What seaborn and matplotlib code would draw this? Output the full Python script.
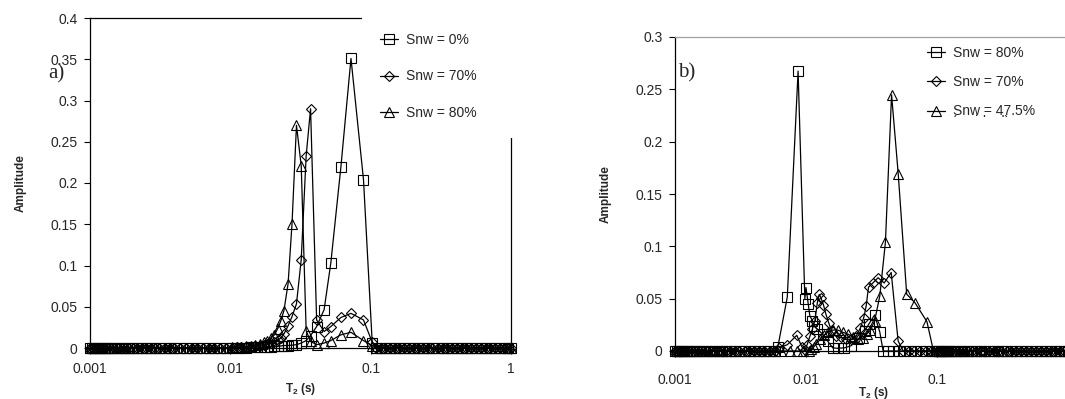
import matplotlib
matplotlib.use('Agg')
import matplotlib.pyplot as plt
from matplotlib.ticker import FixedLocator, FixedFormatter, NullLocator
from matplotlib.transforms import Bbox, TransformedBbox
import seaborn as sns

# ---- panel a) data ----
a_lo_x = [0.001, 0.00104, 0.00108, 0.00112, 0.00117, 0.00122, 0.00128, 0.00134,
          0.00141, 0.00149, 0.00158, 0.00168, 0.00179, 0.00191, 0.00204, 0.00218,
          0.00234, 0.00251, 0.0027, 0.0029, 0.0031, 0.0034, 0.0037, 0.004,
          0.0044, 0.0048, 0.0053, 0.0058, 0.0064, 0.007, 0.0077, 0.0085]
a_lo_y = [0, 0, 0, 0, 0, 0, 0, 0, 0, 0, 0, 0, 0, 0, 0, 0,
          0, 0, 0, 0, 0, 0, 0, 0, 0, 0, 0, 0, 0, 0, 0, 0]
a_mid_x = [0.0093, 0.0102, 0.0111, 0.012, 0.013, 0.014, 0.0151, 0.0162,
           0.0173, 0.0184, 0.0195, 0.0206, 0.0217, 0.0229, 0.0241, 0.0258,
           0.0275, 0.0296, 0.032, 0.0347, 0.0373, 0.0412, 0.0466, 0.052,
           0.0614, 0.0724, 0.0889, 0.1026]
a_sq_y = [0, 0, 0, 0, 0.0005, 0.0007, 0.001, 0.001,
          0.0012, 0.0015, 0.0017, 0.002, 0.002, 0.0025, 0.003, 0.003,
          0.0035, 0.004, 0.006, 0.009, 0.015, 0.026, 0.0466, 0.103,
          0.22, 0.351, 0.204, 0.006]
a_di_y = [0.0003, 0.0005, 0.0008, 0.001, 0.0013, 0.0017, 0.0022, 0.003,
          0.0038, 0.0048, 0.006, 0.0075, 0.0095, 0.012, 0.017, 0.027,
          0.038, 0.0535, 0.107, 0.233, 0.29, 0.034, 0.020, 0.026,
          0.037, 0.042, 0.034, 0.007]
a_tr_y = [0.0003, 0.0007, 0.001, 0.0015, 0.002, 0.003, 0.004, 0.005,
          0.007, 0.009, 0.012, 0.016, 0.023, 0.033, 0.0454, 0.078,
          0.15, 0.27, 0.221, 0.021, 0.008, 0.004, 0.006, 0.009,
          0.016, 0.019, 0.009, 0.003]
a_hi_x = [0.11, 0.118, 0.127, 0.137, 0.148, 0.16, 0.173, 0.187, 0.202, 0.218,
          0.236, 0.255, 0.275, 0.3, 0.325, 0.35, 0.38, 0.41, 0.445, 0.48,
          0.52, 0.56, 0.61, 0.66, 0.71, 0.77, 0.83, 0.9, 0.95, 1.0]
a_hi_y = [0, 0, 0, 0, 0, 0, 0, 0, 0, 0, 0, 0, 0, 0, 0,
          0, 0, 0, 0, 0, 0, 0, 0, 0, 0, 0, 0, 0, 0, 0]
a_labels = ['Snw = 0%', 'Snw = 70%', 'Snw = 80%']

# ---- panel b) data ----
b_lo_x = [0.001, 0.00104, 0.00108, 0.00113, 0.00118, 0.00124, 0.0013, 0.00137,
          0.00145, 0.00154, 0.00164, 0.00175, 0.00187, 0.002, 0.00215, 0.0023,
          0.00247, 0.00265, 0.00285, 0.0031, 0.0034, 0.0037, 0.004, 0.0044,
          0.0048, 0.0053]
b_lo_y = [0, 0, 0, 0, 0, 0, 0, 0, 0, 0, 0, 0, 0,
          0, 0, 0, 0, 0, 0, 0, 0, 0, 0, 0, 0, 0]
b_sq_x = [0.0058, 0.0061, 0.0072, 0.0087, 0.0098, 0.0100, 0.0104, 0.0107,
          0.0112, 0.0115, 0.0122, 0.0134, 0.0146, 0.016, 0.0174, 0.0196,
          0.0221, 0.0256, 0.028, 0.0301, 0.0334, 0.0366, 0.0388, 0.0424,
          0.0465, 0.051, 0.056, 0.062, 0.068, 0.075, 0.083, 0.091]
b_sq_y = [0, 0.004, 0.0517, 0.2674, 0.050, 0.0606, 0.045, 0.0335,
          0.029, 0.024, 0.021, 0.016, 0.0096, 0.003, 0.0026, 0.003,
          0.005, 0.0128, 0.019, 0.0255, 0.0345, 0.018, 0, 0,
          0, 0, 0, 0, 0, 0, 0, 0]
b_di_x = [0.0058, 0.0062, 0.0072, 0.0085, 0.0093, 0.0098, 0.0102, 0.0107,
          0.0112, 0.0117, 0.0122, 0.0126, 0.013, 0.0136, 0.0142, 0.0149,
          0.0157, 0.0169, 0.0185, 0.0203, 0.0221, 0.0241, 0.026, 0.0276,
          0.0288, 0.030, 0.0324, 0.0355, 0.0395, 0.0447, 0.0505, 0.0552,
          0.061, 0.067, 0.074, 0.082, 0.09]
b_di_y = [0, 0.003, 0.006, 0.015, 0.004, 0.001, 0.006, 0.014,
          0.021, 0.029, 0.046, 0.054, 0.051, 0.044, 0.035, 0.027,
          0.019, 0.014, 0.013, 0.011, 0.011, 0.014, 0.022, 0.032,
          0.043, 0.061, 0.065, 0.07, 0.065, 0.075, 0.0096, 0,
          0, 0, 0, 0, 0]
b_tr_x = [0.0058, 0.0065, 0.0075, 0.0085, 0.0095, 0.0105, 0.011, 0.0115,
          0.012, 0.0128, 0.0137, 0.0147, 0.016, 0.0175, 0.019, 0.021,
          0.023, 0.025, 0.027, 0.029, 0.031, 0.0334, 0.0366, 0.0404,
          0.045, 0.0506, 0.0587, 0.068, 0.0838, 0.094]
b_tr_y = [0, 0, 0, 0, 0, 0, 0.002, 0.004,
          0.007, 0.011, 0.015, 0.018, 0.02, 0.02, 0.018, 0.016,
          0.013, 0.011, 0.012, 0.016, 0.02, 0.0287, 0.0527, 0.104,
          0.2448, 0.169, 0.0543, 0.046, 0.028, 0]
b_hi_x = [0.1, 0.104, 0.108, 0.112, 0.117, 0.122, 0.128, 0.135, 0.143, 0.152,
          0.162, 0.173, 0.185, 0.2, 0.215, 0.23, 0.25, 0.27, 0.29, 0.31,
          0.34, 0.37, 0.4, 0.44, 0.48, 0.52, 0.57, 0.62, 0.68, 0.74,
          0.8, 0.87, 0.94, 1.0]
b_hi_y = [0, 0, 0, 0, 0, 0, 0, 0, 0, 0, 0, 0, 0, 0, 0, 0, 0,
          0, 0, 0, 0, 0, 0, 0, 0, 0, 0, 0, 0, 0, 0, 0, 0, 0]
b_labels = ['Snw = 80%', 'Snw = 70%', 'Snw = 47.5%']

# ---- axes ticks ----
x_ticks = [0.001, 0.01, 0.1, 1]
a_xticklabels = ['0.001', '0.01', '0.1', '1']
b_xticklabels = ['0.001', '0.01', '0.1', '']   # "1" falls outside the picture
a_yticks = [0, 0.05, 0.1, 0.15, 0.2, 0.25, 0.3, 0.35, 0.4]
a_yticklabels = ['0', '0.05', '0.1', '0.15', '0.2', '0.25', '0.3', '0.35', '0.4']
b_yticks = [0, 0.05, 0.1, 0.15, 0.2, 0.25, 0.3]
b_yticklabels = ['0', '0.05', '0.1', '0.15', '0.2', '0.25', '0.3']

sns.set_style('ticks')
plt.rcParams['font.family'] = ['Liberation Sans', 'DejaVu Sans']
plt.rcParams['mathtext.default'] = 'regular'

W, H = 1065, 399
fig = plt.figure(figsize=(W / 100, H / 100), dpi=100)
ax1 = fig.add_axes([90 / W, 1 - 348 / H, 421 / W, (348 - 18) / H])
ax2 = fig.add_axes([675 / W, 1 - 351 / H, 393 / W, (351 - 37) / H])


def draw(ax, x, y, marker, ms, label):
    sns.lineplot(x=x, y=y, ax=ax, color='black', lw=0.9, marker=marker,
                 markersize=ms, markerfacecolor='none', markeredgecolor='black',
                 markeredgewidth=0.8, clip_on=False, label=label,
                 estimator=None, errorbar=None, sort=False)


draw(ax1, a_lo_x + a_mid_x + a_hi_x, a_lo_y + a_sq_y + a_hi_y, 's', 7, a_labels[0])
draw(ax1, a_lo_x + a_mid_x + a_hi_x, a_lo_y + a_di_y + a_hi_y, 'D', 5.5, a_labels[1])
draw(ax1, a_lo_x + a_mid_x + a_hi_x, a_lo_y + a_tr_y + a_hi_y, '^', 7.5, a_labels[2])

draw(ax2, b_lo_x + b_sq_x + b_hi_x, b_lo_y + b_sq_y + b_hi_y, 's', 7, b_labels[0])
draw(ax2, b_lo_x + b_di_x + b_hi_x, b_lo_y + b_di_y + b_hi_y, 'D', 5.5, b_labels[1])
draw(ax2, b_lo_x + b_tr_x + b_hi_x, b_lo_y + b_tr_y + b_hi_y, '^', 7.5, b_labels[2])

for ax, xtl, yt, ytl, ymax, xpad in [
        (ax1, a_xticklabels, a_yticks, a_yticklabels, 0.4, 6),
        (ax2, b_xticklabels, b_yticks, b_yticklabels, 0.3, 12)]:
    ax.set_xscale('log')
    ax.set_xlim(0.001, 1)
    ax.set_ylim(0, ymax)
    ax.xaxis.set_major_locator(FixedLocator(x_ticks))
    ax.xaxis.set_major_formatter(FixedFormatter(xtl))
    ax.xaxis.set_minor_locator(NullLocator())
    ax.yaxis.set_major_locator(FixedLocator(yt))
    ax.yaxis.set_major_formatter(FixedFormatter(ytl))
    ax.tick_params(axis='both', direction='out', length=4, width=0.8,
                   labelsize=10, color='black', pad=5)
    ax.tick_params(axis='x', pad=xpad)
    for s in ax.spines.values():
        s.set_color('black')
        s.set_linewidth(0.9)
    ax.set_ylabel('Amplitude', fontsize=8.5, fontweight='bold')
    ax.set_xlabel('T$_2$ (s)', fontsize=8.5, fontweight='bold')

ax2.spines['top'].set_color('#a0a0a0')
ax1.yaxis.set_label_coords(-0.15, 0.5)
ax1.xaxis.set_label_coords(0.5, -0.1)
ax2.yaxis.set_label_coords(-0.16, 0.5)
ax2.xaxis.set_label_coords(0.505, -0.108)

leg1 = ax1.legend(loc='upper left', bbox_to_anchor=(0.645, 0.665, 0.38, 0.345),
                  mode='expand', fontsize=10, handlelength=1.3, handletextpad=0.6,
                  labelspacing=1.63, borderpad=1.3, borderaxespad=0,
                  frameon=True, facecolor='white', edgecolor='none',
                  framealpha=1, fancybox=False)
leg2 = ax2.legend(loc='upper left', bbox_to_anchor=(0.63, 0.985), fontsize=10,
                  handlelength=1.3, handletextpad=0.6, labelspacing=1.1,
                  borderpad=0.3, borderaxespad=0, frameon=False)

# second line of the last legend entry, cut off in the original
res = fig.text(951 / W, 1 - 122 / H, '(residual)', fontsize=10, va='center')
res.set_clip_box(TransformedBbox(Bbox([[0, 1 - 117 / H], [1, 1]]), fig.transFigure))
res.set_clip_on(True)

fig.text(48 / W, 1 - 74 / H, 'a)', family=['Liberation Serif', 'DejaVu Serif'],
         fontsize=15, va='center')
fig.text(678 / W, 1 - 73 / H, 'b)', family=['Liberation Serif', 'DejaVu Serif'],
         fontsize=15, va='center')

fig.savefig('out.png', dpi=100)
